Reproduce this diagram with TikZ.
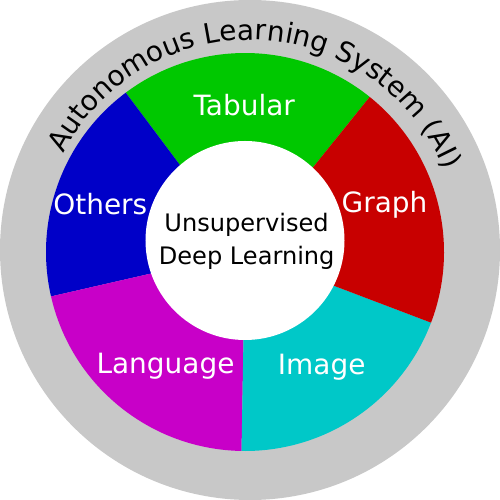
\documentclass[tikz,border=0pt]{standalone}
\usepackage{fontspec}
\setmainfont{DejaVu Sans}
\usetikzlibrary{decorations.text}

\definecolor{ringgray}{RGB}{200,200,200}
\definecolor{segtabular}{RGB}{0,200,0}
\definecolor{seggraph}{RGB}{200,0,0}
\definecolor{segimage}{RGB}{0,200,200}
\definecolor{seglanguage}{RGB}{200,0,200}
\definecolor{segothers}{RGB}{0,0,200}

\newcommand\segfont{\fontsize{15.9pt}{19pt}\selectfont}
\newcommand\corefont{\fontsize{13.7pt}{16pt}\selectfont}

\tikzset{
  seglabel/.style={text=white, font=\segfont, inner sep=0pt, anchor=base},
  corelabel/.style={text=black, font=\corefont, inner sep=0pt, anchor=base},
}

% one coloured slice of the ring: start angle, end angle, colour
\newcommand\ringslice[3]{%
  \fill[#3] (rc) -- ++(#1:3.98) arc[start angle=#1, end angle=#2, radius=3.98] -- cycle;}

\begin{document}
\begin{tikzpicture}
  \useasboundingbox (-5,-5) rectangle (5,5);

  % outer grey disc
  \fill[ringgray] (0,0) circle[radius=5];

  % curved title on the grey band
  \path[decorate, decoration={text along path, text align=center,
      text={|\segfont|Autonomous Learning System (AI)}}]
    (0,0) ++(167.5:4.2) arc[start angle=167.5, end angle=7.5, radius=4.2];

  % coloured ring
  \coordinate (rc) at (-0.1,-0.04);
  \ringslice{51.2}{126.8}{segtabular}
  \ringslice{126.8}{192.9}{segothers}
  \ringslice{192.9}{269}{seglanguage}
  \ringslice{269}{339.2}{segimage}
  \ringslice{-20.8}{51.2}{seggraph}

  % white core
  \fill[white] (-0.1,0.19) circle[radius=1.99];

  % slice labels
  \node[seglabel] (tabular)  at (-0.116, 2.68)  {Tabular};
  \node[seglabel] (graph)    at (2.69, 0.754)   {Graph};
  \node[seglabel] (image)    at (1.434, -2.486) {Image};
  \node[seglabel] (language) at (-1.69, -2.48)  {Language};
  \node[seglabel] (others)   at (-2.994, 0.70)  {Others};

  % core labels
  \node[corelabel] (core1) at (-0.07, 0.36)  {Unsupervised};
  \node[corelabel] (core2) at (-0.066, -0.29) {Deep Learning};
\end{tikzpicture}
\end{document}
